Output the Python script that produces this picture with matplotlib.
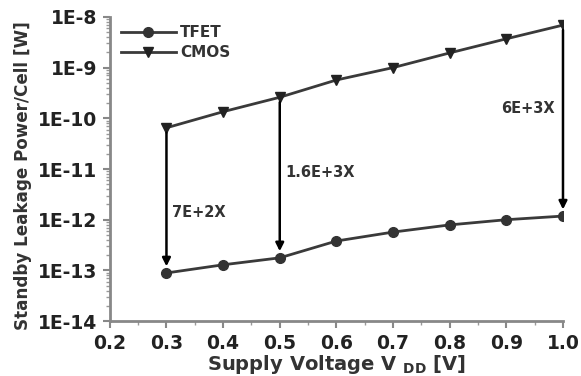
import matplotlib
matplotlib.use("Agg")
import matplotlib.pyplot as plt
from matplotlib.ticker import LogLocator, FixedLocator, NullFormatter

plt.rcParams['font.family'] = ['DejaVu Sans']
plt.rcParams['font.weight'] = 'bold'
plt.rcParams['mathtext.fontset'] = 'custom'
plt.rcParams['mathtext.bf'] = 'DejaVu Sans:bold'
plt.rcParams['mathtext.rm'] = 'DejaVu Sans:bold'

vdd = [0.3, 0.4, 0.5, 0.6, 0.7, 0.8, 0.9, 1.0]
tfet = [8.9e-14, 1.29e-13, 1.77e-13, 3.8e-13, 5.7e-13, 7.9e-13, 1.0e-12, 1.18e-12]
cmos = [6.5e-11, 1.35e-10, 2.6e-10, 5.7e-10, 1.0e-9, 1.95e-9, 3.7e-9, 6.9e-9]
xticks = [0.2, 0.3, 0.4, 0.5, 0.6, 0.7, 0.8, 0.9, 1.0]
xticklabels = ["0.2", "0.3", "0.4", "0.5", "0.6", "0.7", "0.8", "0.9", "1.0"]
yticks = [1e-14, 1e-13, 1e-12, 1e-11, 1e-10, 1e-9, 1e-8]
yticklabels = ["1E-14", "1E-13", "1E-12", "1E-11", "1E-10", "1E-9", "1E-8"]
arrow_x = [0.3, 0.5, 1.0]
ratio_labels = ["7E+2X", "1.6E+3X", "6E+3X"]

fig = plt.figure(figsize=(5.81, 3.76), dpi=100)
ax = fig.add_axes([0.189, 0.146, 0.780, 0.809])

line_c = '#3a3a3a'
ax.plot(vdd, tfet, color=line_c, lw=2, marker='o', ms=7, mfc='#333333', mec='#333333', label='TFET')
ax.plot(vdd, cmos, color=line_c, lw=2, marker='v', ms=7, mfc='#222222', mec='#222222', label='CMOS')

ax.set_yscale('log')
ax.set_xlim(0.2, 1.0)
ax.set_ylim(1e-14, 1e-8)
ax.set_xticks(xticks)
ax.set_xticklabels(xticklabels)
ax.set_yticks(yticks)
ax.set_yticklabels(yticklabels)
ax.yaxis.set_minor_locator(LogLocator(base=10, subs=range(2, 10), numticks=100))
ax.yaxis.set_minor_formatter(NullFormatter())
ax.xaxis.set_minor_locator(FixedLocator([0.25, 0.35, 0.45, 0.55, 0.65, 0.75, 0.85, 0.95]))

for s in ['top', 'right']:
    ax.spines[s].set_visible(False)
for s in ['left', 'bottom']:
    ax.spines[s].set_color('#888888')
    ax.spines[s].set_linewidth(2)
ax.tick_params(axis='both', which='major', direction='out', length=5, width=1.5, color='#888888',
               labelsize=13.5, labelcolor='#222222', pad=4)
ax.tick_params(axis='both', which='minor', direction='out', length=3, width=1, color='#999999')
for lab in ax.get_xticklabels() + ax.get_yticklabels():
    lab.set_fontweight('bold')

ax.set_ylabel("Standby Leakage Power/Cell [W]", fontsize=12.1, fontweight='bold', color='#333333')
ax.yaxis.set_label_coords(-0.172, 0.478)
ax.set_xlabel(r"Supply Voltage V $_{\mathbf{DD}}$ [V]", fontsize=14, fontweight='bold', color='#333333', labelpad=0)

idx = {v: i for i, v in enumerate(vdd)}
for xa in arrow_x:
    i = idx[xa]
    ax.annotate('', xy=(xa, tfet[i] * 1.35), xytext=(xa, cmos[i] * 0.8),
                arrowprops=dict(arrowstyle='-|>', color='black', lw=1.8, mutation_scale=12, shrinkA=0, shrinkB=0))

ax.text(0.31, 1.4e-12, ratio_labels[0], fontsize=10.5, fontweight='bold', color='#333333', va='center', ha='left')
ax.text(0.51, 8.7e-12, ratio_labels[1], fontsize=10.5, fontweight='bold', color='#333333', va='center', ha='left')
ax.text(0.985, 1.55e-10, ratio_labels[2], fontsize=10.5, fontweight='bold', color='#333333', va='center', ha='right')

leg = ax.legend(loc='upper left', bbox_to_anchor=(0.0, 1.007), frameon=False, fontsize=11,
                handlelength=3.6, handletextpad=0.3, labelspacing=0.3, borderaxespad=0.3)
for t in leg.get_texts():
    t.set_fontweight('bold')
    t.set_color('#333333')

fig.savefig('out.png', dpi=100)
